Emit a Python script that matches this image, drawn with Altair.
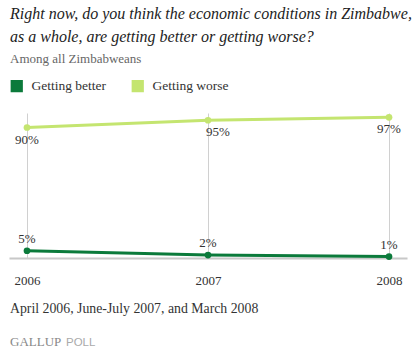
import altair as alt
import pandas as pd

years = [2006, 2007, 2008]
better = [5, 2, 1]
worse = [90, 95, 97]
series_names = ["Getting better", "Getting worse"]
colors = ["#0b7a3b", "#c4e570"]

rows = []
for y, b, w in zip(years, better, worse):
    rows.append({"year": y, "series": series_names[0], "value": b, "label": f"{b}%"})
    rows.append({"year": y, "series": series_names[1], "value": w, "label": f"{w}%"})
df = pd.DataFrame(rows)

SERIF = "Liberation Serif"
W, H = 398, 145

xscale = alt.Scale(domain=[2005.9006, 2008.0994], nice=False, zero=False)
yscale = alt.Scale(domain=[0, 100], nice=False)
cscale = alt.Scale(domain=series_names, range=colors)

x = alt.X("year:Q", scale=xscale,
          axis=alt.Axis(values=years, format="d", title=None, grid=True,
                        gridColor="#d0d0d0", gridWidth=1, domainColor="#c8c8c8",
                        domainWidth=2, ticks=False, labelFont=SERIF, labelFontSize=13,
                        labelColor="#333333", labelPadding=16, labelFlush=False))
y = alt.Y("value:Q", scale=yscale, axis=None)

base = alt.Chart(df)

lines = base.mark_line(strokeWidth=3).encode(
    x=x, y=y,
    color=alt.Color("series:N", scale=cscale,
                    legend=alt.Legend(title=None, orient="none", legendX=1, legendY=-34,
                                      direction="horizontal", symbolType="square",
                                      symbolSize=150, symbolStrokeWidth=0,
                                      labelFont=SERIF, labelFontSize=13.5, labelColor="#333333",
                                      columnPadding=24, labelOffset=8)),
)
points = base.mark_point(filled=True, size=45, opacity=1).encode(
    x=x, y=y, color=alt.Color("series:N", scale=cscale, legend=None)
)

worse_df = base.transform_filter(alt.datum.series == series_names[1])
better_df = base.transform_filter(alt.datum.series == series_names[0])

lab_common = dict(font=SERIF, fontSize=13, color="#333333")
worse_lab = worse_df.transform_filter(alt.datum.year != 2007).mark_text(
    baseline="top", dy=6, **lab_common).encode(x=x, y=y, text="label:N")
worse_lab07 = worse_df.transform_filter(alt.datum.year == 2007).mark_text(
    baseline="top", dy=6, dx=10, **lab_common).encode(x=x, y=y, text="label:N")
better_lab = better_df.mark_text(baseline="alphabetic", dy=-8, **lab_common).encode(
    x=x, y=y, text="label:N")

one = pd.DataFrame({"a": [0]})
def txt(s, xv, yv, size, color, style="normal", font=SERIF, weight="normal"):
    return alt.Chart(one).mark_text(text=s, align="left", baseline="alphabetic",
                                    font=font, fontSize=size, color=color,
                                    fontStyle=style, fontWeight=weight).encode(
        x=alt.value(xv), y=alt.value(yv))

OX, OY = 9, 113
texts = [
    txt("Right now, do you think the economic conditions in Zimbabwe,", 10 - OX, 19 - OY, 16, "#222222", "italic"),
    txt("as a whole, are getting better or getting worse?", 10 - OX, 42 - OY, 16, "#222222", "italic"),
    txt("Among all Zimbabweans", 10 - OX, 63 - OY, 13, "#666666"),
    txt("April 2006, June-July 2007, and March 2008", 10 - OX, 313 - OY, 13.8, "#333333"),
    txt("GALLUP", 10 - OX, 346 - OY, 13, "#888888"),
    txt("POLL", 66 - OX, 346 - OY, 11.5, "#aaaaaa", font="Liberation Sans"),
]

chart = alt.layer(lines, points, worse_lab, worse_lab07, better_lab, *texts).properties(
    width=W, height=H,
    padding={"left": OX, "top": OY, "right": 414 - OX - W, "bottom": 354 - OY - H},
    autosize=alt.AutoSizeParams(type="none"),
    background="white",
).configure_view(stroke=None)

chart.save("out.html", embed_options={"renderer": "svg", "actions": False})
